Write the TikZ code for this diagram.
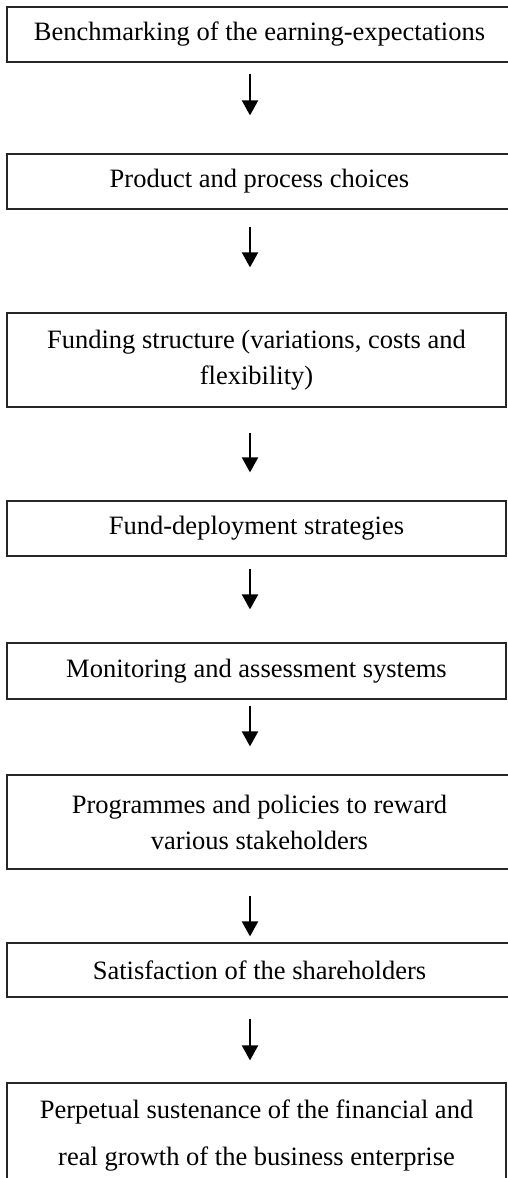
\documentclass[tikz,border=0pt]{standalone}
\usepackage{fontspec}
\setmainfont{Liberation Serif}
\usetikzlibrary{arrows.meta}

\tikzset{
  stage/.style={draw=black!85, line width=1.2pt, fill=white, inner sep=0pt,
    minimum width=499pt, align=center, font=\fontsize{26.5}{36}\selectfont},
  widestage/.style={stage, minimum width=505pt},
  flow/.style={line width=2pt, -{Triangle[width=16pt,length=15pt]}}
}

\begin{document}
\begin{tikzpicture}[x=1pt, y=-1pt]
    \useasboundingbox (0,0) rectangle (507,1178);
    \fill[white] (0,0) rectangle (507,1178);
    \coordinate (spine) at (250,0);
    % the chain of stages, top to bottom
    \node[widestage, minimum height=55pt] (bench) at (259.5,34.5) {Benchmarking of the earning-expectations};
    \node[widestage, minimum height=55pt] (prod) at (259.5,181.5) {Product and process choices};
    \node[stage, minimum height=94pt] (fund) at (256.5,360) {Funding structure (variations, costs and\\flexibility)};
    \node[stage, minimum height=55pt] (deploy) at (256.5,528.5) {Fund-deployment strategies};
    \node[stage, minimum height=56pt] (monitor) at (256.5,671) {Monitoring and assessment systems};
    \node[widestage, minimum height=94pt] (reward) at (259.5,822) {Programmes and policies to reward\\various stakeholders};
    \node[widestage, minimum height=54pt] (satisf) at (259.5,970) {Satisfaction of the shareholders};
    \node[stage, minimum height=106pt, font=\fontsize{26.5}{47}\selectfont] (growth) at (256.5,1136) {Perpetual sustenance of the financial and\\real growth of the business enterprise};
    % arrows between stages (with the gaps left above and below each)
    \foreach \a/\b/\s/\e in {bench/prod/11/38, prod/fund/17/45, fund/deploy/25/28,
        deploy/monitor/12/33, monitor/reward/6/28, reward/satisf/26/6, satisf/growth/21/22} {
      \draw[flow, shorten <=\s pt, shorten >=\e pt] (\a.south -| spine) -- (\b.north -| spine);
    }
\end{tikzpicture}
\end{document}
